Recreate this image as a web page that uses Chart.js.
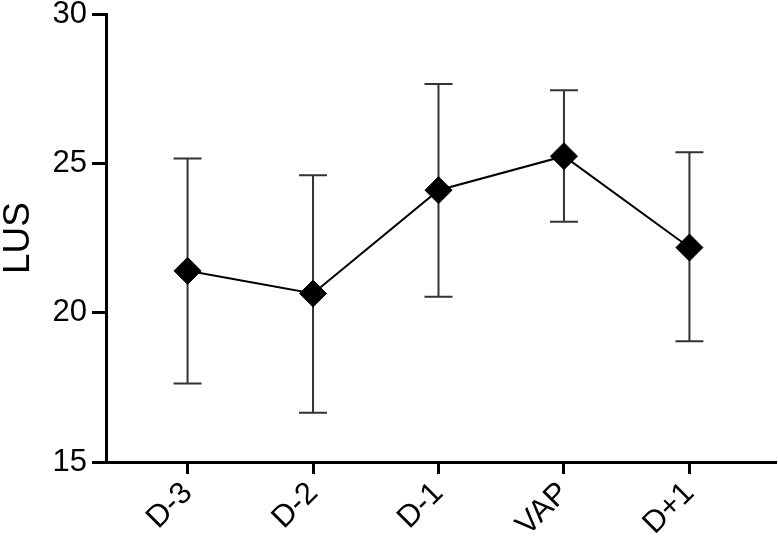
<!DOCTYPE html>
<html><head><meta charset="utf-8">
<script src="https://cdn.jsdelivr.net/npm/chart.js@4"></script>
<style>html,body{margin:0;padding:0;background:#fff}</style>
</head><body>
<canvas id="c" width="778" height="546"></canvas>
<script>
const categories = ['D-3', 'D-2', 'D-1', 'VAP', 'D+1'];
const means = [21.40, 20.64, 24.10, 25.24, 22.18];
const upper = [25.16, 24.60, 27.66, 27.45, 25.37];
const lower = [17.63, 16.65, 20.53, 23.04, 19.04];
const yTicks = [15, 20, 25, 30];
const yTitle = 'LUS';

const FONT = '"Liberation Sans", Arial, Helvetica, sans-serif';

const errorBars = {
  id: 'errorBars',
  beforeDatasetsDraw(chart) {
    const ctx = chart.ctx, xs = chart.scales.x, ys = chart.scales.y;
    ctx.save();
    ctx.strokeStyle = '#333333';
    ctx.lineWidth = 2;
    const cap = 14;
    categories.forEach((c, i) => {
      const x = xs.getPixelForValue(i);
      const yt = ys.getPixelForValue(upper[i]);
      const yb = ys.getPixelForValue(lower[i]);
      ctx.beginPath();
      ctx.moveTo(x, yt); ctx.lineTo(x, yb);
      ctx.moveTo(x - cap, yt); ctx.lineTo(x + cap, yt);
      ctx.moveTo(x - cap, yb); ctx.lineTo(x + cap, yb);
      ctx.stroke();
    });
    ctx.restore();
  }
};

new Chart(document.getElementById('c'), {
  type: 'line',
  data: {
    datasets: [{
      data: means.map((m, i) => ({ x: i, y: m })),
      borderColor: '#000',
      borderWidth: 2,
      backgroundColor: '#000',
      pointStyle: 'rectRot',
      pointRadius: 13.5,
      pointBorderWidth: 1,
      pointBackgroundColor: '#000',
      pointBorderColor: '#000',
      tension: 0,
      clip: false
    }]
  },
  options: {
    responsive: false,
    animation: false,
    layout: { autoPadding: false, padding: { top: 14, right: 2, left: 0, bottom: 0 } },
    plugins: { legend: { display: false }, tooltip: { enabled: false } },
    scales: {
      x: {
        type: 'linear',
        min: -0.65,
        max: 4.69,
        afterBuildTicks: (s) => { s.ticks = categories.map((c, i) => ({ value: i })); },
        afterFit: (s) => { s.height = 84; s.paddingLeft = 0; s.paddingRight = 0; },
        ticks: {
          callback: (v) => categories[v],
          autoSkip: false,
          minRotation: 45,
          maxRotation: 45,
          color: '#000',
          padding: 1,
          font: { family: FONT, size: 31 }
        },
        grid: { drawOnChartArea: false, drawTicks: true, tickLength: 12, tickWidth: 3, tickColor: '#000' },
        border: { display: true, color: '#000', width: 3 }
      },
      y: {
        min: 15,
        max: 30,
        afterBuildTicks: (s) => { s.ticks = yTicks.map(v => ({ value: v })); },
        afterFit: (s) => { s.width = 106; s.paddingTop = 0; s.paddingBottom = 0; },
        ticks: {
          color: '#000',
          padding: 5,
          font: { family: FONT, size: 31, lineHeight: 1 }
        },
        title: {
          display: true,
          text: yTitle,
          color: '#000',
          padding: 0,
          font: { family: FONT, size: 37, lineHeight: 1 }
        },
        grid: { drawOnChartArea: false, drawTicks: true, tickLength: 14, tickWidth: 3, tickColor: '#000' },
        border: { display: true, color: '#000', width: 3 }
      }
    }
  },
  plugins: [errorBars]
});
</script>
</body></html>
